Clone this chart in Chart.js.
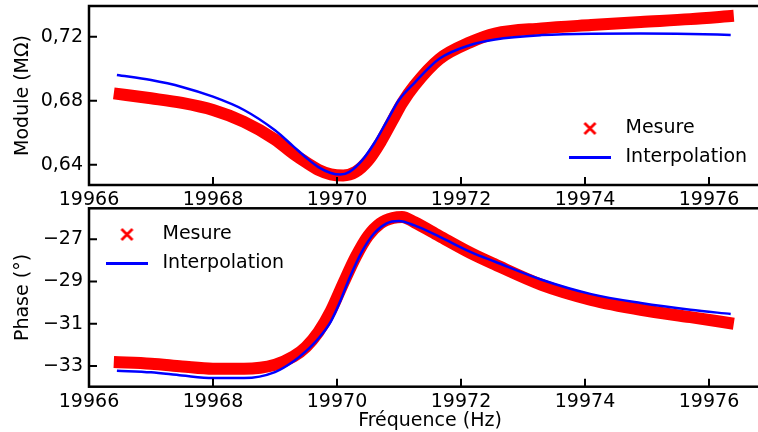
<!DOCTYPE html>
<html lang="fr">
<head>
<meta charset="UTF-8">
<title>Module et phase</title>
<style>
  body { margin: 0; background: #fff; overflow: hidden; }
  #wrap { position: relative; width: 758px; height: 432px; overflow: hidden; }
  #wrap canvas { position: absolute; left: 0; top: 0; }
</style>
</head>
<body>
<div id="wrap">
  <canvas id="moduleChart" width="772" height="432"></canvas>
  <canvas id="phaseChart" width="772" height="432"></canvas>
</div>

<script src="https://cdn.jsdelivr.net/npm/chart.js"></script>
<script>
// ticks
const freqTicks = [19966, 19968, 19970, 19972, 19974, 19976];
const moduleTicks = [0.64, 0.68, 0.72];
const phaseTicks = [-33, -31, -29, -27];

// mesure (croix rouges)
const mesureFreq = [19966.4, 19967.0, 19967.5, 19968.0, 19968.5, 19969.0, 19969.3, 19969.5, 19969.7, 19969.9,
                    19970.1, 19970.3, 19970.5, 19970.7, 19970.9, 19971.05, 19971.25, 19971.65, 19972.15, 19972.55,
                    19973.3, 19974.1, 19974.9, 19975.7, 19976.4];
const mesureModule = [0.6846, 0.6815, 0.6786, 0.6742, 0.6668, 0.6558, 0.6467, 0.6415, 0.6368, 0.6340,
                      0.6333, 0.6355, 0.6425, 0.6540, 0.6680, 0.6785, 0.6895, 0.7060, 0.7165, 0.7220,
                      0.7252, 0.7273, 0.7292, 0.7310, 0.7331];
const mesurePhase = [-32.81, -32.89, -33.02, -33.13, -33.13, -32.94, -32.55, -32.10, -31.40, -30.40,
                     -29.10, -27.85, -26.85, -26.25, -26.00, -25.95, -26.20, -26.85, -27.65, -28.20,
                     -29.16, -29.87, -30.34, -30.69, -31.00];

// interpolation (ligne bleue)
const interpFreq = [19966.45, 19967.0, 19967.5, 19968.0, 19968.5, 19969.0, 19969.3, 19969.5, 19969.7, 19969.9,
                    19970.05, 19970.2, 19970.4, 19970.6, 19970.8, 19971.0, 19971.25, 19971.65, 19972.15, 19972.55,
                    19973.3, 19974.1, 19974.9, 19975.7, 19976.35];
const interpModule = [0.6961, 0.6929, 0.6886, 0.6825, 0.6742, 0.6615, 0.6513, 0.6445, 0.6385, 0.6348,
                      0.6338, 0.6355, 0.6425, 0.6534, 0.6669, 0.6804, 0.6912, 0.7062, 0.7148, 0.7183,
                      0.7210, 0.7219, 0.7220, 0.7217, 0.7211];
const interpPhase = [-33.22, -33.30, -33.45, -33.57, -33.57, -33.29, -32.78, -32.30, -31.70, -30.90,
                     -29.95, -28.85, -27.60, -26.72, -26.25, -26.14, -26.35, -26.88, -27.60, -28.07,
                     -28.92, -29.60, -30.02, -30.34, -30.54];

Chart.defaults.font.family = 'DejaVu Sans';
Chart.defaults.font.size = 19;
Chart.defaults.color = '#000';

function crossIcon() {
    const c = document.createElement('canvas');
    c.width = 15; c.height = 15;
    const g = c.getContext('2d');
    g.strokeStyle = '#ff0000';
    g.lineWidth = 2.8;
    g.beginPath();
    g.moveTo(2, 2); g.lineTo(13, 13);
    g.moveTo(13, 2); g.lineTo(2, 13);
    g.stroke();
    return c;
}

function lineIcon() {
    const c = document.createElement('canvas');
    c.width = 42; c.height = 3;
    const g = c.getContext('2d');
    g.fillStyle = '#0000ff';
    g.fillRect(0, 0, 42, 3);
    return c;
}

const pts = (xs, ys) => xs.map((x, i) => ({ x: x, y: ys[i] }));

// cadre noir + graduations vers l'intérieur, légende placée à la main
const frame = {
    id: 'frame',
    afterLayout(chart, args, opts) {
        const lg = chart.legend;
        lg.left = opts.legendLeft;
        lg.top = opts.legendTop;
        lg.right = chart.chartArea.right;
        lg.bottom = chart.chartArea.bottom;
    },
    afterDraw(chart) {
        const { ctx, chartArea: a, scales: { x, y } } = chart;
        ctx.save();
        ctx.strokeStyle = '#000';
        ctx.lineWidth = 2;
        ctx.beginPath();
        x.ticks.forEach((t, i) => {
            const p = x.getPixelForTick(i);
            ctx.moveTo(p, a.bottom); ctx.lineTo(p, a.bottom - 8);
        });
        y.ticks.forEach((t, i) => {
            const p = y.getPixelForTick(i);
            ctx.moveTo(a.left, p); ctx.lineTo(a.left + 8, p);
        });
        ctx.stroke();
        ctx.lineWidth = 2.5;
        ctx.strokeRect(a.left, a.top, a.right - a.left, a.bottom - a.top);
        ctx.restore();
    }
};

function makeChart(id, o) {
    return new Chart(document.getElementById(id), {
        type: 'line',
        data: {
            datasets: [
                { label: 'Mesure', data: pts(mesureFreq, o.mesure), order: 1,
                  borderColor: '#ff0000', borderWidth: 12, borderCapStyle: 'butt',
                  pointRadius: 0, pointStyle: crossIcon(), cubicInterpolationMode: 'monotone' },
                { label: 'Interpolation', data: pts(interpFreq, o.interp), order: 0,
                  borderColor: '#0000ff', borderWidth: 2.5,
                  pointRadius: 0, pointStyle: lineIcon(), cubicInterpolationMode: 'monotone' }
            ]
        },
        options: {
            responsive: false,
            animation: false,
            events: [],
            layout: { padding: o.padding },
            scales: {
                x: {
                    type: 'linear', min: 19966, max: 19977,
                    grid: { display: false, drawTicks: false },
                    border: { display: false },
                    afterBuildTicks: s => { s.ticks = freqTicks.map(v => ({ value: v })); },
                    afterFit: s => { s.height = o.xHeight; s.paddingLeft = 0; s.paddingRight = 0; },
                    ticks: { padding: 4, maxRotation: 0, callback: v => String(v) },
                    title: o.xTitle
                },
                y: {
                    min: o.yMin, max: o.yMax,
                    grid: { display: false, drawTicks: false },
                    border: { display: false },
                    afterBuildTicks: s => { s.ticks = o.yTicks.map(v => ({ value: v })); },
                    afterFit: s => { s.width = 89; s.paddingTop = 0; s.paddingBottom = 0; },
                    ticks: { padding: 6, callback: o.fmt },
                    title: { display: true, text: o.yLabel, padding: { top: 12, bottom: 0 } }
                }
            },
            plugins: {
                legend: {
                    position: 'chartArea', align: 'start',
                    labels: { usePointStyle: true, pointStyleWidth: 52, padding: 10, boxHeight: 19,
                              sort: (a, b) => a.datasetIndex - b.datasetIndex }
                },
                tooltip: { enabled: false },
                frame: { legendLeft: o.legendLeft, legendTop: o.legendTop }
            }
        },
        plugins: [frame]
    });
}

makeChart('moduleChart', {
    mesure: mesureModule, interp: interpModule,
    yMin: 0.6273, yMax: 0.7392, yTicks: moduleTicks,
    fmt: v => v.toFixed(2).replace('.', ','),
    yLabel: 'Module (MΩ)',
    padding: { top: 6, left: 0, right: 1, bottom: 222 },
    xHeight: 25,
    xTitle: { display: false },
    legendLeft: 554, legendTop: 109
});

makeChart('phaseChart', {
    mesure: mesurePhase, interp: interpPhase,
    yMin: -33.98, yMax: -25.54, yTicks: phaseTicks,
    fmt: v => '\u2212' + Math.abs(v),
    yLabel: 'Phase (°)',
    padding: { top: 208.3, left: 0, right: 1, bottom: 0 },
    xHeight: 45.3,
    xTitle: { display: true, text: 'Fréquence (Hz)', padding: { top: 0, bottom: 0 } },
    legendLeft: 91, legendTop: 215
});
</script>
</body>
</html>
